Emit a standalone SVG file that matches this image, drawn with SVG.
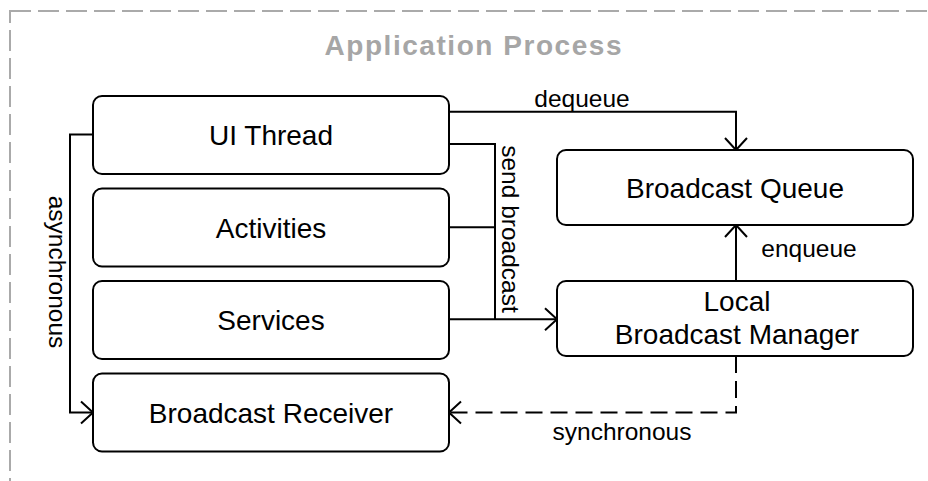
<svg xmlns="http://www.w3.org/2000/svg" width="928" height="481" viewBox="0 0 928 481">
  <style>
    .node rect { fill: #ffffff; stroke: #000000; stroke-width: 2; }
    .node text { font-family: "Liberation Sans", Arial, sans-serif; font-size: 28px; fill: #000000; text-anchor: middle; }
    .edge { fill: none; stroke: #000000; stroke-width: 2; }
    .dash { stroke-dasharray: 17 8; }
    .lbl { font-family: "Liberation Sans", Arial, sans-serif; font-size: 24.5px; fill: #000000; }
    .title { font-family: "Liberation Sans", Arial, sans-serif; font-size: 28px; font-weight: bold; fill: #a6a6a6; text-anchor: middle; }
  </style>
  <defs>
    <marker id="arrow" markerUnits="userSpaceOnUse" markerWidth="30" markerHeight="30" viewBox="-15 -15 30 30" refX="0" refY="0" orient="auto">
      <path d="M-12,-11 L0,0 L-12,11" fill="none" stroke="#000000" stroke-width="2"/>
    </marker>
  </defs>
  <rect width="928" height="481" fill="#ffffff"/>

  <g id="process">
    <rect x="10" y="11" width="926" height="480" fill="none" stroke="#aaaaaa" stroke-width="2" stroke-dasharray="21 7"/>
    <text class="title" x="473" y="55" textLength="297" lengthAdjust="spacing">Application Process</text>
  </g>

  <g id="connectors">
    <path class="edge" d="M449,111.7 H736 V150" marker-end="url(#arrow)"/>
    <text class="lbl" x="582" y="107" text-anchor="middle">dequeue</text>

    <path class="edge" d="M449,144 H495 V319.3"/>
    <path class="edge" d="M449,227.3 H495"/>
    <path class="edge" d="M449,319.3 H557" marker-end="url(#arrow)"/>
    <text class="lbl" transform="translate(502,229) rotate(90)" text-anchor="middle">send broadcast</text>

    <path class="edge" d="M736,281 V225" marker-end="url(#arrow)"/>
    <text class="lbl" x="809" y="257" text-anchor="middle">enqueue</text>

    <path class="edge" d="M93,134.5 H70 V412.5 H93" marker-end="url(#arrow)"/>
    <text class="lbl" transform="translate(49,272) rotate(90)" text-anchor="middle">asynchronous</text>

    <path class="edge dash" d="M736,356 V412.5 H449" marker-end="url(#arrow)"/>
    <text class="lbl" x="622" y="440" text-anchor="middle">synchronous</text>
  </g>

  <g id="ui-thread" class="node">
    <rect x="93" y="96" width="356" height="78" rx="9"/>
    <text x="271" y="145">UI Thread</text>
  </g>
  <g id="activities" class="node">
    <rect x="93" y="188.5" width="356" height="78" rx="9"/>
    <text x="271" y="237.5">Activities</text>
  </g>
  <g id="services" class="node">
    <rect x="93" y="281" width="356" height="78" rx="9"/>
    <text x="271" y="330">Services</text>
  </g>
  <g id="broadcast-receiver" class="node">
    <rect x="93" y="373.5" width="356" height="78" rx="9"/>
    <text x="271" y="423">Broadcast Receiver</text>
  </g>
  <g id="broadcast-queue" class="node">
    <rect x="557" y="150" width="356" height="75" rx="9"/>
    <text x="735" y="197.5">Broadcast Queue</text>
  </g>
  <g id="local-broadcast-manager" class="node">
    <rect x="557" y="281" width="356" height="75" rx="9"/>
    <text x="737" y="311">Local</text>
    <text x="737" y="344">Broadcast Manager</text>
  </g>
</svg>
